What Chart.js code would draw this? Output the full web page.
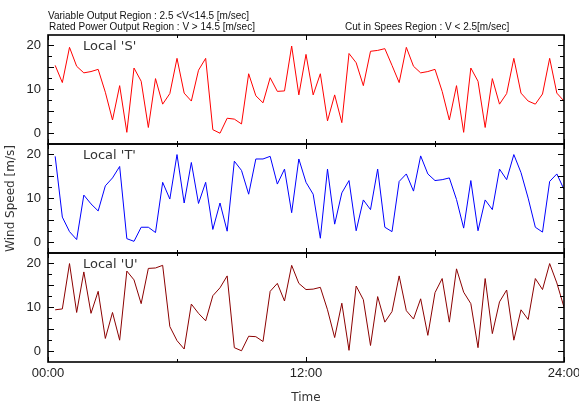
<!DOCTYPE html>
<html>
<head>
<meta charset="utf-8">
<script src="https://cdn.jsdelivr.net/npm/chart.js@4.4.1/dist/chart.umd.min.js"></script>
<style>
  html, body { margin: 0; padding: 0; background: #fff; }
</style>
</head>
<body>
<canvas id="windChart" width="579" height="405"></canvas>
<script>
// sample times, minutes after midnight (one reading every 20 min)
const sampleMinutes = [
  20, 40, 60, 80, 100, 120, 140, 160, 180, 200, 220, 240,
  260, 280, 300, 320, 340, 360, 380, 400, 420, 440, 460, 480,
  500, 520, 540, 560, 580, 600, 620, 640, 660, 680, 700, 720,
  740, 760, 780, 800, 820, 840, 860, 880, 900, 920, 940, 960,
  980, 1000, 1020, 1040, 1060, 1080, 1100, 1120, 1140, 1160, 1180, 1200,
  1220, 1240, 1260, 1280, 1300, 1320, 1340, 1360, 1380, 1400, 1420, 1440
];

const speedS = [
  15.4, 11.5, 19.5, 15.2, 13.7, 14, 14.5, 9.3, 3, 10.8, 0.2, 14.8,
  11.8, 1.3, 12.4, 6.6, 9, 17, 9.1, 7.3, 14.3, 17, 0.8, 0,
  3.4, 3.2, 2.1, 13.5, 8.5, 6.9, 12.6, 9.5, 9.6, 19.8, 8.7, 17.9,
  8.7, 13.5, 2.8, 8.7, 2.4, 18.1, 16, 10.8, 18.6, 18.8, 19.2, 15.4,
  11.5, 19.5, 15.2, 13.7, 14, 14.5, 9.5, 3, 10.8, 0.2, 14.8, 11.8,
  1.3, 12.4, 6.6, 9, 17, 9.1, 7.3, 6.6, 8.9, 17, 9.1, 7.3
];

const speedT = [
  19.5, 5.7, 2.4, 0.6, 10.7, 8.7, 7.1, 12.8, 14.6, 17.2, 0.8, 0.2,
  3.4, 3.4, 2.2, 13.6, 9.8, 19.9, 8.9, 18.1, 8.8, 13.6, 2.9, 8.9,
  2.5, 18.4, 16.3, 10.9, 18.9, 18.9, 19.5, 13.2, 16.6, 6.7, 18.9, 13.6,
  10.9, 0.9, 16.6, 4.1, 11.2, 14, 2.6, 9.6, 7.4, 16.6, 3.4, 2.4,
  13.8, 15.5, 11.6, 19.6, 15.5, 14, 14.2, 14.6, 9.7, 3.2, 14, 2.6,
  9.6, 7.4, 16.6, 14.2, 19.9, 15.8, 10, 3.4, 2.3, 13.8, 15.5, 12
];

const speedU = [
  9.4, 9.6, 19.9, 8.8, 18, 8.6, 13.6, 2.9, 8.8, 2.5, 18.2, 16.2,
  10.8, 18.8, 18.9, 19.5, 5.6, 2.4, 0.5, 10.7, 8.6, 6.9, 12.6, 14.4,
  17.1, 0.8, 0.1, 3.4, 3.3, 2.2, 13.6, 15.4, 11.4, 19.5, 15.4, 14,
  14.1, 14.5, 9.4, 3.1, 10.9, 0.2, 14.8, 11.7, 1.3, 12.4, 6.6, 9,
  17.1, 9.2, 7.3, 11.9, 3.6, 13.3, 16.5, 6.6, 18.7, 13.4, 10.8, 0.8,
  16.5, 4, 11.2, 13.9, 2.5, 9.4, 7.2, 16.5, 14, 19.9, 15.5, 10
];

const yLabelValues = [0, 5, 10, 15, 20];
const yTickMarks = [0, 2.5, 5, 7.5, 10, 12.5, 15, 17.5, 20];
const xLabelMinutes = [0, 720, 1440];
const xTickMarks = [0, 360, 720, 1080, 1440];

const panels = [
  { axis: 'yS', label: "Local 'S'" },
  { axis: 'yT', label: "Local 'T'" },
  { axis: 'yU', label: "Local 'U'" }
];

function hhmm(m) {
  return String(Math.floor(m / 60)).padStart(2, '0') + ':' + String(m % 60).padStart(2, '0');
}

function points(values) {
  return sampleMinutes.map((m, i) => ({ x: m, y: values[i] }));
}

function yAxis(extra) {
  return Object.assign({
    type: 'linear',
    position: 'left',
    stack: 'wind',
    stackWeight: 1,
    min: -2.45,
    max: 22.3,
    grid: { display: false, drawTicks: false },
    border: { display: false },
    afterBuildTicks: s => { s.ticks = yLabelValues.map(v => ({ value: v })); },
    afterFit: s => { s.width = 48; s.paddingTop = 0; s.paddingBottom = 0; },
    ticks: {
      font: { family: 'Liberation Sans', size: 13 },
      color: '#222',
      padding: 7
    }
  }, extra);
}

// frame, inward ticks and the panel names
const panelDecor = {
  id: 'panelDecor',
  afterDatasetsDraw(chart) {
    const ctx = chart.ctx;
    const area = chart.chartArea;
    const xs = chart.scales.x;
    ctx.save();
    ctx.strokeStyle = '#000';
    panels.forEach(p => {
      const ys = chart.scales[p.axis];
      ctx.lineWidth = 1;
      ctx.beginPath();
      yTickMarks.forEach(v => {
        const py = Math.round(ys.getPixelForValue(v)) + 0.5;
        const len = v % 5 === 0 ? 6 : 4;
        ctx.moveTo(area.left, py); ctx.lineTo(area.left + len, py);
        ctx.moveTo(area.right, py); ctx.lineTo(area.right - len, py);
      });
      xTickMarks.forEach(m => {
        const px = Math.round(xs.getPixelForValue(m)) + 0.5;
        const len = m % 720 === 0 ? 5 : 3;
        ctx.moveTo(px, ys.top); ctx.lineTo(px, ys.top + len);
        ctx.moveTo(px, ys.bottom); ctx.lineTo(px, ys.bottom - len);
      });
      ctx.stroke();
      ctx.lineWidth = 1.6;
      ctx.strokeRect(area.left, ys.top, area.right - area.left, ys.bottom - ys.top);

      ctx.fillStyle = '#333';
      ctx.font = '13px "DejaVu Sans"';
      ctx.textBaseline = 'middle';
      ctx.textAlign = 'left';
      ctx.fillText(p.label, area.left + 35, ys.top + 12);
    });

    ctx.fillStyle = '#111';
    ctx.font = '10px "Liberation Sans"';
    ctx.fillText('Variable Output Region : 2.5 <V<14.5 [m/sec]', 48, 16);
    ctx.fillText('Rated Power Output Region : V > 14.5 [m/sec]', 49, 27);
    ctx.fillText('Cut in Spees Region : V < 2.5[m/sec]', 345, 27);
    ctx.restore();
  }
};

new Chart(document.getElementById('windChart').getContext('2d'), {
  type: 'line',
  data: {
    datasets: [
      { label: "Local 'S'", data: points(speedS), yAxisID: 'yS', borderColor: '#ff0000' },
      { label: "Local 'T'", data: points(speedT), yAxisID: 'yT', borderColor: '#0000ff' },
      { label: "Local 'U'", data: points(speedU), yAxisID: 'yU', borderColor: '#8b0000' }
    ]
  },
  options: {
    responsive: false,
    animation: false,
    layout: { padding: { top: 35, right: 15, left: 0, bottom: 0 } },
    plugins: {
      legend: { display: false },
      tooltip: { enabled: false }
    },
    elements: {
      point: { radius: 0 },
      line: { borderWidth: 1, tension: 0, fill: false }
    },
    scales: {
      x: {
        type: 'linear',
        position: 'bottom',
        min: 0,
        max: 1440,
        grid: { display: false, drawTicks: false },
        border: { display: false },
        afterBuildTicks: s => { s.ticks = xLabelMinutes.map(v => ({ value: v })); },
        afterFit: s => { s.height = 43; s.paddingLeft = 0; s.paddingRight = 0; },
        ticks: {
          callback: v => hhmm(v),
          font: { family: 'Liberation Sans', size: 13 },
          color: '#222',
          padding: 4,
          maxRotation: 0,
          autoSkip: false
        },
        title: {
          display: true,
          text: 'Time',
          font: { family: 'DejaVu Sans', size: 12 },
          color: '#333',
          padding: { top: 0, bottom: 0 }
        }
      },
      yU: yAxis({}),
      yT: yAxis({
        title: {
          display: true,
          text: 'Wind Speed [m/s]',
          font: { family: 'DejaVu Sans', size: 12 },
          color: '#333',
          padding: { top: 4, bottom: 0 }
        }
      }),
      yS: yAxis({})
    }
  },
  plugins: [panelDecor]
});
</script>
</body>
</html>
